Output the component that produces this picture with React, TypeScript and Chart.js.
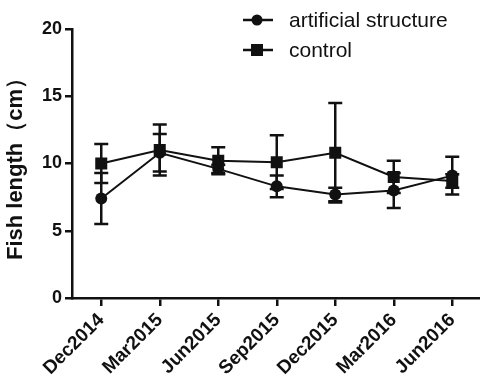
import React, { useEffect, useRef } from "react";
import { Chart, registerables } from "chart.js";
Chart.register(...registerables);

const categories = ["Dec2014", "Mar2015", "Jun2015", "Sep2015", "Dec2015", "Mar2016", "Jun2016"];
const artificialMean = [7.4, 10.8, 9.6, 8.3, 7.7, 8.0, 9.1];
const artificialErr = [1.9, 1.4, 0.3, 0.8, 0.5, 1.3, 1.4];
const controlMean = [10.0, 11.0, 10.2, 10.1, 10.8, 9.0, 8.7];
const controlErr = [1.45, 1.9, 1.0, 2.0, 3.7, 1.2, 0.5];
const seriesNames = ["artificial structure", "control"];
const yTitle = "Fish length（cm）";

const FONT = "'Liberation Sans', Arial, sans-serif";
const INK = "#111";

const errorBars = {
  id: "errorBars",
  afterDatasetsDraw(chart: any) {
    const ctx = chart.ctx;
    const y = chart.scales.y;
    chart.data.datasets.forEach((ds: any, i: number) => {
      const meta = chart.getDatasetMeta(i);
      meta.data.forEach((pt: any, j: number) => {
        const m = ds.data[j];
        const e = ds.errors[j];
        const top = y.getPixelForValue(m + e);
        const bot = y.getPixelForValue(m - e);
        ctx.save();
        ctx.strokeStyle = INK;
        ctx.lineWidth = 2.5;
        ctx.beginPath();
        ctx.moveTo(pt.x, top);
        ctx.lineTo(pt.x, bot);
        ctx.moveTo(pt.x - 7, top);
        ctx.lineTo(pt.x + 7, top);
        ctx.moveTo(pt.x - 7, bot);
        ctx.lineTo(pt.x + 7, bot);
        ctx.stroke();
        ctx.restore();
      });
    });
  },
};

export default function App() {
  const ref = useRef<HTMLCanvasElement>(null);
  useEffect(() => {
    document.body.style.margin = "0";
    const chart = new Chart(ref.current as HTMLCanvasElement, {
      type: "line",
      data: {
        labels: categories,
        datasets: [
          {
            label: seriesNames[0],
            data: artificialMean,
            errors: artificialErr,
            borderColor: INK,
            backgroundColor: INK,
            borderWidth: 2,
            pointStyle: "circle",
            pointRadius: 6,
            pointBackgroundColor: INK,
            pointBorderWidth: 0,
          } as any,
          {
            label: seriesNames[1],
            data: controlMean,
            errors: controlErr,
            borderColor: INK,
            backgroundColor: INK,
            borderWidth: 2,
            pointStyle: "rect",
            pointRadius: 8.5,
            pointBackgroundColor: INK,
            pointBorderWidth: 0,
          } as any,
        ],
      },
      options: {
        animation: false,
        responsive: true,
        maintainAspectRatio: false,
        layout: { padding: { top: 29, left: 0, right: 0, bottom: 0 } },
        plugins: { legend: { display: false }, tooltip: { enabled: false } },
        scales: {
          x: {
            type: "category",
            offset: true,
            grid: {
              display: true,
              drawOnChartArea: false,
              offset: false,
              tickLength: 8,
              color: INK,
              lineWidth: 2.5,
            },
            border: { display: true, color: INK, width: 2.5 },
            ticks: {
              maxRotation: 45,
              minRotation: 45,
              color: INK,
              padding: 3,
              font: { family: FONT, size: 19, weight: "bold" },
            },
            afterFit: (s: any) => {
              s.height = 88;
            },
          },
          y: {
            min: 0,
            max: 20,
            grid: {
              display: true,
              drawOnChartArea: false,
              tickLength: 7,
              color: INK,
              lineWidth: 2.5,
            },
            border: { display: true, color: INK, width: 2.5 },
            ticks: {
              stepSize: 5,
              color: INK,
              padding: 3,
              font: { family: FONT, size: 18, weight: "bold" },
            },
            title: {
              display: true,
              text: yTitle,
              color: INK,
              padding: { top: 3, bottom: 0 },
              font: { family: FONT, size: 22, weight: "bold" },
            },
            afterFit: (s: any) => {
              s.width = 72;
            },
          },
        },
      } as any,
      plugins: [errorBars],
    });
    return () => chart.destroy();
  }, []);

  const legendRow = (name: string, marker: "circle" | "square", top: number) => (
    <div
      style={{
        position: "absolute",
        left: 243,
        top: top - 15,
        height: 30,
        display: "flex",
        alignItems: "center",
        fontFamily: FONT,
        fontSize: 21,
        color: INK,
        whiteSpace: "nowrap",
      }}
    >
      <svg width={30} height={16} style={{ marginRight: 16 }}>
        <line x1={0} y1={8} x2={30} y2={8} stroke={INK} strokeWidth={2.5} />
        {marker === "circle" ? (
          <circle cx={14} cy={8} r={5.5} fill={INK} />
        ) : (
          <rect x={8} y={2} width={12} height={12} fill={INK} />
        )}
      </svg>
      <span>{name}</span>
    </div>
  );

  return (
    <div
      style={{
        position: "fixed",
        left: 0,
        top: 0,
        width: 480,
        height: 386,
        overflow: "hidden",
        background: "#fff",
      }}
    >
      <div style={{ position: "absolute", left: 0, top: 0, width: 490, height: 386 }}>
        <canvas ref={ref} />
      </div>
      {legendRow(seriesNames[0], "circle", 20)}
      {legendRow(seriesNames[1], "square", 50)}
    </div>
  );
}
